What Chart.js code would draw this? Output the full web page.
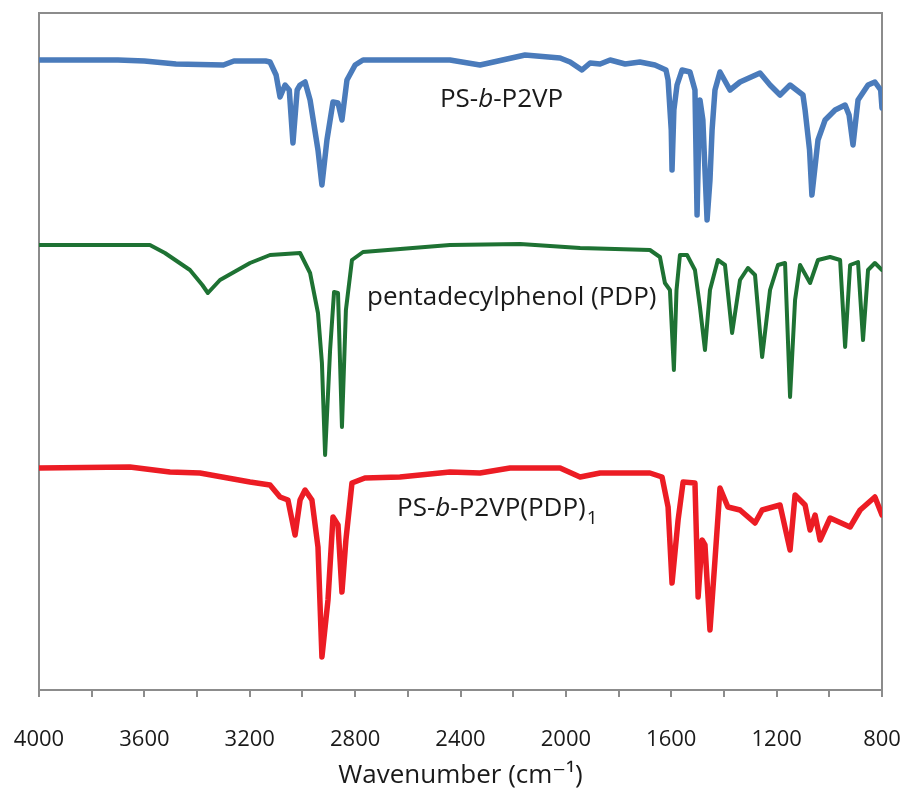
<!DOCTYPE html>
<html>
<head>
<meta charset="utf-8">
<script src="https://cdn.jsdelivr.net/npm/chart.js@4.4.0/dist/chart.umd.min.js"></script>
<style>
  html, body { margin: 0; padding: 0; background: #fff; }
  #wrap { width: 905px; height: 796px; }
</style>
</head>
<body>
<div id="wrap"><canvas id="ftir"></canvas></div>
<script>
// FTIR spectra, wavenumber in cm-1, intensity in arbitrary units (stacked)
const blueX = [4000, 3700, 3600, 3480, 3300, 3260, 3140, 3123, 3100, 3085, 3066, 3050, 3036, 3020, 3009, 2990, 2971, 2941, 2926, 2907,
  2884, 2865, 2850, 2831, 2800, 2770, 2600, 2440, 2326, 2155, 2022, 1984, 1939, 1908, 1870, 1832, 1775, 1719, 1662, 1620,
  1612, 1600, 1597, 1590, 1578, 1559, 1529, 1510, 1502, 1495, 1491, 1480, 1464, 1453, 1445, 1434, 1415, 1377, 1339, 1263,
  1225, 1187, 1149, 1100, 1092, 1075, 1066, 1043, 1016, 978, 940, 925, 910, 891, 853, 827, 805, 800];
const blueY = [630, 630, 629, 626, 625, 629, 629, 628, 615, 593, 605, 600, 547, 600, 605, 608, 590, 540, 505, 550,
  588, 587, 570, 610, 625, 630, 630, 630, 625, 635, 632, 628, 620, 627, 626, 630, 626, 628, 625, 620,
  610, 560, 520, 580, 605, 620, 618, 600, 475, 560, 590, 570, 470, 510, 560, 600, 618, 600, 608, 617,
  605, 595, 605, 595, 580, 540, 495, 550, 570, 580, 585, 575, 545, 590, 605, 608, 600, 582];

const greenX = [4000, 3579, 3522, 3427, 3380, 3359, 3313, 3199, 3123, 3009, 2971, 2941, 2926, 2914, 2895, 2880, 2865, 2850, 2835, 2812,
  2770, 2440, 2174, 1946, 1681, 1643, 1624, 1605, 1590, 1580, 1567, 1540, 1510, 1491, 1472, 1453, 1423, 1396, 1369, 1339,
  1309, 1282, 1255, 1225, 1195, 1168, 1149, 1130, 1111, 1073, 1043, 997, 959, 940, 921, 891, 872, 853, 827, 800];
const greenY = [445, 445, 437, 420, 405, 397, 410, 427, 435, 437, 417, 377, 327, 235, 340, 398, 397, 263, 380, 430,
  438, 445, 446, 442, 440, 433, 407, 400, 320, 400, 435, 435, 420, 383, 340, 400, 430, 425, 357, 410,
  422, 415, 333, 400, 425, 427, 293, 390, 425, 407, 430, 433, 430, 343, 425, 428, 350, 420, 427, 420];

const redX = [4000, 3655, 3503, 3389, 3199, 3123, 3085, 3055, 3028, 3009, 2990, 2964, 2941, 2926, 2903, 2884, 2865, 2850, 2835, 2812,
  2763, 2630, 2440, 2326, 2212, 2022, 1946, 1870, 1681, 1635, 1612, 1597, 1574, 1555, 1510, 1498, 1483, 1472, 1453, 1434,
  1415, 1385, 1339, 1282, 1255, 1187, 1149, 1130, 1092, 1073, 1054, 1035, 997, 921, 883, 827, 800];
const redY = [222, 223, 218, 217, 208, 205, 193, 190, 155, 190, 200, 190, 143, 33, 90, 173, 165, 98, 150, 207,
  212, 213, 218, 217, 222, 222, 213, 217, 217, 213, 183, 107, 170, 208, 207, 93, 150, 145, 60, 130,
  202, 183, 180, 167, 180, 185, 140, 195, 185, 160, 175, 150, 172, 163, 180, 193, 175];

const tickLabels = [4000, 3600, 3200, 2800, 2400, 2000, 1600, 1200, 800];

const FONT = '"Open Sans", "DejaVu Sans", sans-serif';
const frameGray = '#8c8c8c';

function pts(xs, ys) {
  return xs.map((x, i) => ({ x: x, y: ys[i] }));
}

// series names, drawn next to the traces (anchored in data coords)
const seriesLabels = [
  { x: 2478, y: 583, parts: [['PS-', ''], ['b', 'italic'], ['-P2VP', '']] },
  { x: 2755, y: 385, parts: [['pentadecylphenol (PDP)', '']] },
  { x: 2641, y: 174, parts: [['PS-', ''], ['b', 'italic'], ['-P2VP(PDP)', ''], ['1', 'sub']] }
];

const frame = {
  id: 'frame',
  beforeDatasetsDraw(chart) {
    const a = chart.chartArea, ctx = chart.ctx;
    ctx.save();
    ctx.strokeStyle = frameGray;
    ctx.lineWidth = 2;
    ctx.strokeRect(a.left, a.top, a.right - a.left, a.bottom - a.top);
    ctx.restore();
  }
};

const labels = {
  id: 'labels',
  afterDatasetsDraw(chart) {
    const ctx = chart.ctx, sx = chart.scales.x, sy = chart.scales.y;
    ctx.save();
    ctx.fillStyle = '#1a1a1a';
    ctx.textBaseline = 'alphabetic';
    seriesLabels.forEach(l => {
      let px = sx.getPixelForValue(l.x);
      const py = sy.getPixelForValue(l.y);
      l.parts.forEach(([txt, st]) => {
        if (st === 'sub') {
          ctx.font = '19px ' + FONT;
          ctx.fillText(txt, px + 1, py + 8);
          px += ctx.measureText(txt).width + 1;
        } else {
          ctx.font = (st === 'italic' ? 'italic ' : '') + '26px ' + FONT;
          ctx.fillText(txt, px, py);
          px += ctx.measureText(txt).width;
        }
      });
    });
    ctx.restore();
  }
};

new Chart(document.getElementById('ftir'), {
  type: 'line',
  data: {
    datasets: [
      { label: 'PS-b-P2VP', data: pts(blueX, blueY), borderColor: '#4a7bbb', borderWidth: 5.5 },
      { label: 'pentadecylphenol (PDP)', data: pts(greenX, greenY), borderColor: '#1e7233', borderWidth: 4 },
      { label: 'PS-b-P2VP(PDP)1', data: pts(redX, redY), borderColor: '#ec1c24', borderWidth: 5.5 }
    ]
  },
  options: {
    responsive: true,
    maintainAspectRatio: false,
    animation: false,
    elements: { point: { radius: 0 }, line: { tension: 0, borderJoinStyle: 'round', borderCapStyle: 'round' } },
    layout: { padding: { left: 39, right: 23, top: 13, bottom: 0 } },
    plugins: { legend: { display: false }, tooltip: { enabled: false } },
    scales: {
      x: {
        type: 'linear',
        reverse: true,
        min: 800,
        max: 4000,
        afterFit: s => { s.height = 106; s.paddingLeft = 0; s.paddingRight = 0; },
        grid: { drawOnChartArea: false, tickLength: 7, color: frameGray, lineWidth: 2 },
        border: { color: frameGray, width: 2 },
        ticks: {
          stepSize: 200,
          autoSkip: false,
          maxRotation: 0,
          padding: 30,
          color: '#1a1a1a',
          font: { family: FONT, size: 22 },
          callback: v => tickLabels.includes(v) ? String(v) : ''
        },
        title: {
          display: true,
          text: 'Wavenumber (cm⁻¹)',
          color: '#1a1a1a',
          font: { family: FONT, size: 26 },
          padding: { top: 0, bottom: 5 }
        }
      },
      y: { display: false, min: 0, max: 677 }
    }
  },
  plugins: [frame, labels]
});
</script>
</body>
</html>
